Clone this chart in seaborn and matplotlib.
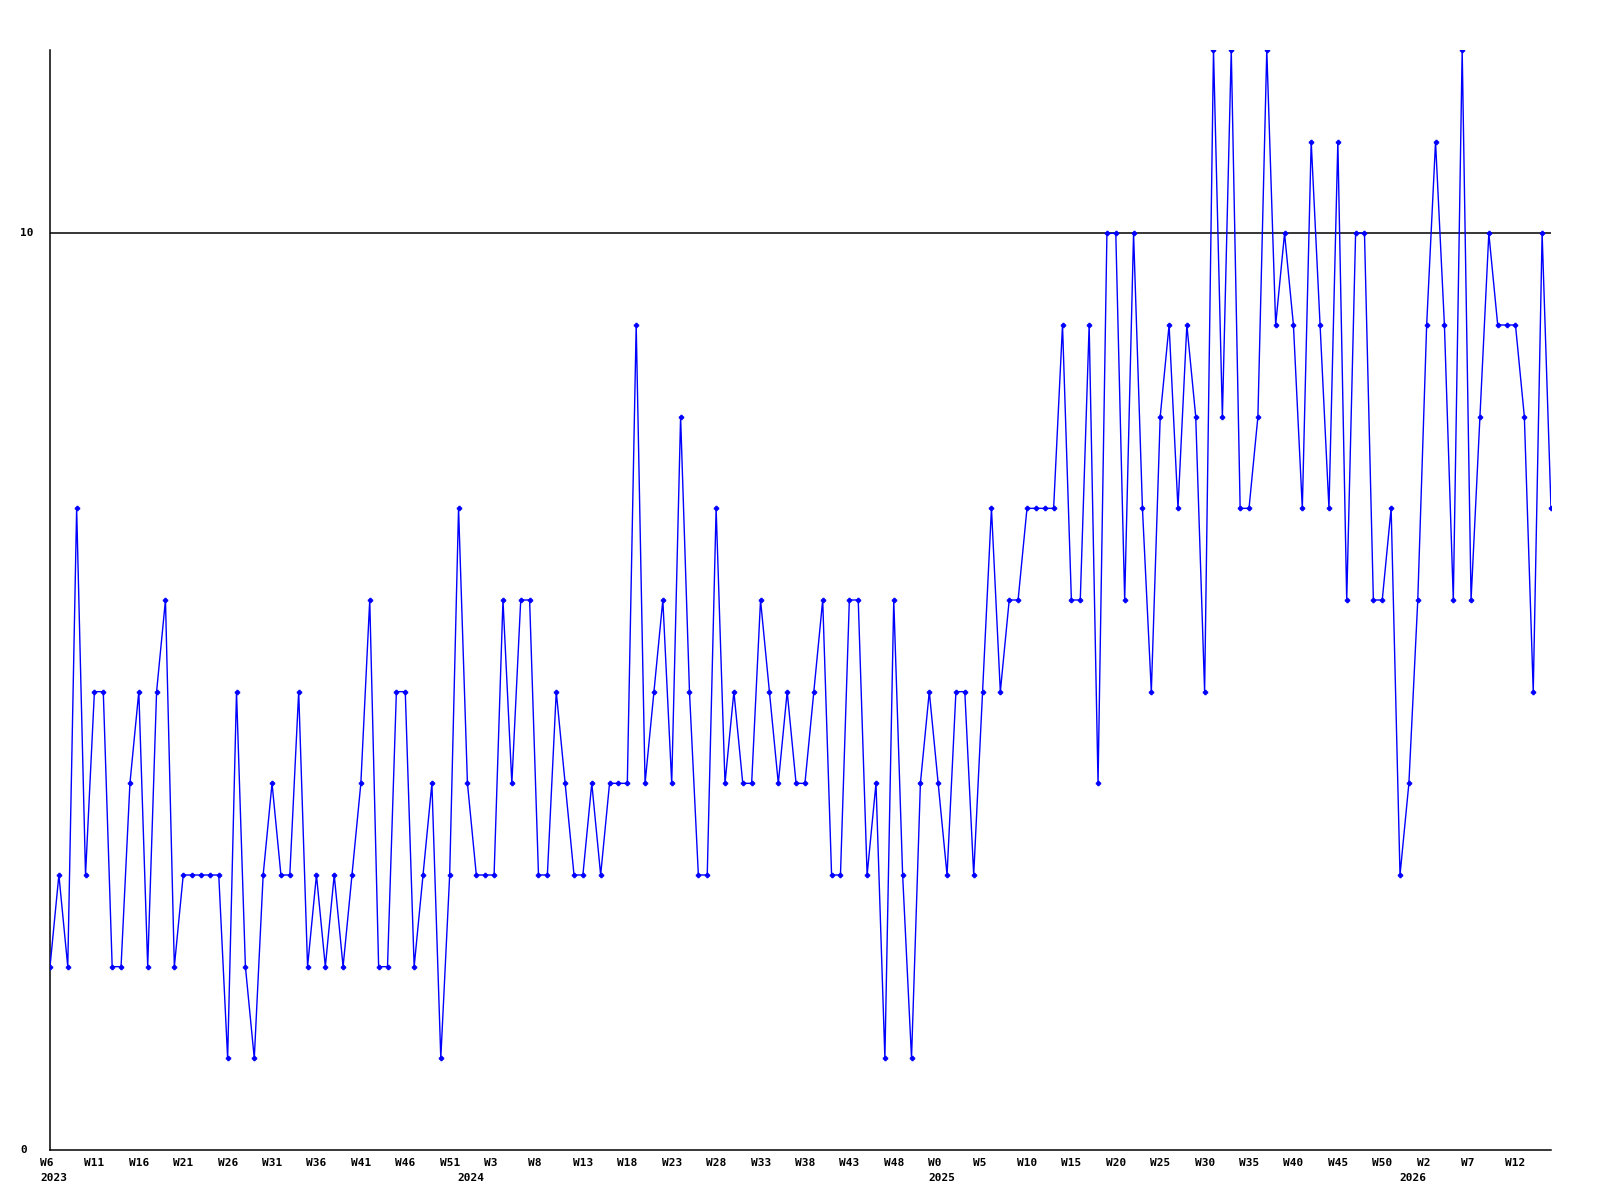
import matplotlib
matplotlib.use("Agg")
import matplotlib.pyplot as plt
import matplotlib.transforms as mtransforms
import numpy as np
import pandas as pd
import seaborn as sns

# Weekly values, 2023 W6 .. 2026 W16 (170 weeks)
values = [
    2, 3, 2, 7, 3, 5, 5, 2, 2, 4,
    5, 2, 5, 6, 2, 3, 3, 3, 3, 3,
    1, 5, 2, 1, 3, 4, 3, 3, 5, 2,
    3, 2, 3, 2, 3, 4, 6, 2, 2, 5,
    5, 2, 3, 4, 1, 3, 7, 4, 3, 3,
    3, 6, 4, 6, 6, 3, 3, 5, 4, 3,
    3, 4, 3, 4, 4, 4, 9, 4, 5, 6,
    4, 8, 5, 3, 3, 7, 4, 5, 4, 4,
    6, 5, 4, 5, 4, 4, 5, 6, 3, 3,
    6, 6, 3, 4, 1, 6, 3, 1, 4, 5,
    4, 3, 5, 5, 3, 5, 7, 5, 6, 6,
    7, 7, 7, 7, 9, 6, 6, 9, 4, 10,
    10, 6, 10, 7, 5, 8, 9, 7, 9, 8,
    5, 12, 8, 12, 7, 7, 8, 12, 9, 10,
    9, 7, 11, 9, 7, 11, 6, 10, 10, 6,
    6, 7, 3, 4, 6, 9, 11, 9, 6, 12,
    6, 8, 10, 9, 9, 9, 8, 5, 10, 7,
]

# Week numbering of the series (years and their week ranges)
years = ["2023", "2024", "2025", "2026"]
first_week = [6, 0, 0, 0]
last_week = [52, 52, 52, 16]
tick_every = 5
y_ticks = [0, 10]
y_max = 12
ref_line = 10

week_labels, year_of_point, year_start = [], [], []
for y, a, b in zip(years, first_week, last_week):
    year_start.append(len(week_labels))
    for w in range(a, b + 1):
        week_labels.append("W%d" % w)
        year_of_point.append(y)

df = pd.DataFrame({"week": np.arange(len(values)), "value": values,
                   "label": week_labels, "year": year_of_point})

sns.set_theme(style="white")
plt.rcParams["font.family"] = ["DejaVu Sans Mono", "DejaVu Sans"]

fig = plt.figure(figsize=(16, 12), dpi=100)
ax = fig.add_axes([50 / 1600, 50 / 1200, 1501 / 1600, 1100 / 1200])

ax.axhline(ref_line, color="black", linewidth=1.1, zorder=1)
sns.lineplot(data=df, x="week", y="value", ax=ax, color="#0000ff",
             linewidth=1.0, marker="P", markersize=3.2,
             markeredgecolor="#0000ff", markerfacecolor="#0000ff", zorder=3)

ax.set_xlim(0, len(values) - 1)
ax.set_ylim(0, y_max)
ax.set_xticks([])
ax.set_yticks([])


def px(dx, dy):
    return mtransforms.ScaledTranslation(dx / 100, dy / 100, fig.dpi_scale_trans)


xtrans = ax.get_xaxis_transform()
for pos in range(0, len(values), tick_every):
    ax.text(pos, 0, df["label"][pos], transform=xtrans + px(-10, -8),
            ha="left", va="top", fontsize=8, fontweight="bold",
            color="black", clip_on=False)
for pos, y in zip(year_start, years):
    ax.text(pos, 0, y, transform=xtrans + px(-10, -23), ha="left", va="top",
            fontsize=8, fontweight="bold", color="black", clip_on=False)

ytrans = ax.get_yaxis_transform()
for t in y_ticks:
    ax.text(0, t, str(t), transform=ytrans + px(-30, 0), ha="left",
            va="center", fontsize=8, fontweight="bold", color="black",
            clip_on=False)

for side in ["top", "right"]:
    ax.spines[side].set_visible(False)
for side in ["left", "bottom"]:
    ax.spines[side].set_color("black")
    ax.spines[side].set_linewidth(1.1)

ax.set_xlabel("")
ax.set_ylabel("")
ax.grid(False)

fig.savefig("out.png", dpi=100)
